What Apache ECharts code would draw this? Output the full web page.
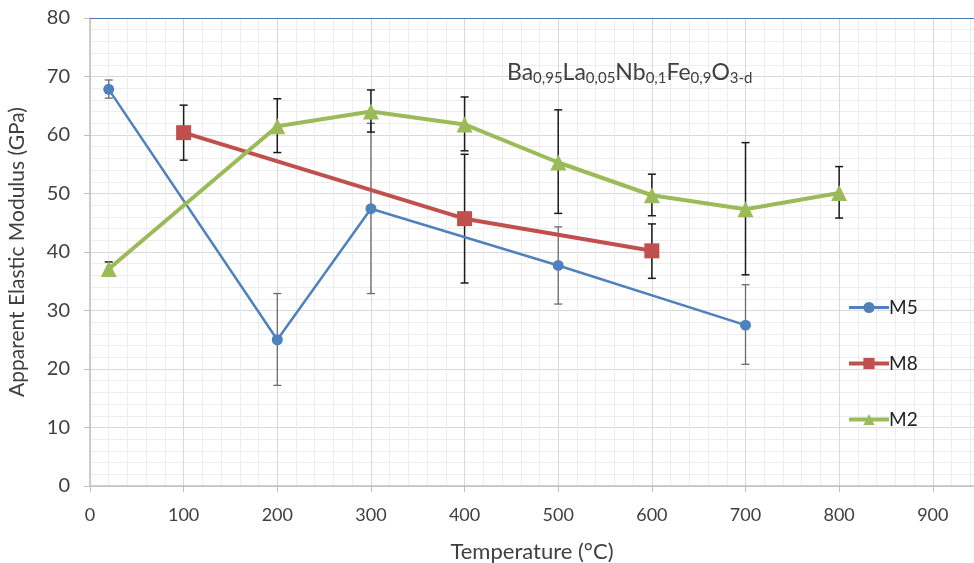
<!DOCTYPE html>
<html><head><meta charset="utf-8">
<script src="https://cdn.jsdelivr.net/npm/echarts@6/dist/echarts.min.js"></script>
<style>html,body{margin:0;padding:0;background:#fff}#c{width:974px;height:563px}</style>
</head><body><div id="c"></div>
<script>
const seriesNames = ['M5', 'M8', 'M2'];
const temps5 = [20, 200, 300, 500, 700];
const m5 = [67.8, 25.0, 47.4, 37.7, 27.5];
const m5Lo = [66.3, 17.2, 32.9, 31.1, 20.8];
const m5Hi = [69.4, 32.9, 62.0, 44.3, 34.4];
const temps8 = [100, 400, 600];
const m8 = [60.4, 45.7, 40.2];
const m8Lo = [55.7, 34.7, 35.5];
const m8Hi = [65.1, 56.7, 44.8];
const temps2 = [20, 200, 300, 400, 500, 600, 700, 800];
const m2 = [37.1, 61.5, 64.0, 61.8, 55.3, 49.7, 47.3, 50.1];
const m2Lo = [36.0, 57.0, 60.5, 57.3, 46.6, 46.2, 36.1, 45.8];
const m2Hi = [38.3, 66.2, 67.7, 66.5, 64.3, 53.3, 58.7, 54.6];
const xTicks = [0, 100, 200, 300, 400, 500, 600, 700, 800, 900];
const yTicks = [0, 10, 20, 30, 40, 50, 60, 70, 80];

const FONT = 'Lato';
const chart = echarts.init(document.getElementById('c'));

function pts(xs, ys) { return xs.map((x, i) => [x, ys[i]]); }
function errData(xs, lo, hi) { return xs.map((x, i) => [x, lo[i], hi[i]]); }
function errSeries(data, color, width) {
  return {
    type: 'custom', silent: true, z: 1,
    data: data,
    encode: { x: 0, y: [1, 2] },
    renderItem: function (params, api) {
      const lo = api.coord([api.value(0), api.value(1)]);
      const hi = api.coord([api.value(0), api.value(2)]);
      const w = 4;
      const st = { stroke: color, lineWidth: width };
      return {
        type: 'group', children: [
          { type: 'line', shape: { x1: lo[0], y1: lo[1], x2: hi[0], y2: hi[1] }, style: st },
          { type: 'line', shape: { x1: lo[0] - w, y1: lo[1], x2: lo[0] + w, y2: lo[1] }, style: st },
          { type: 'line', shape: { x1: hi[0] - w, y1: hi[1], x2: hi[0] + w, y2: hi[1] }, style: st }
        ]
      };
    }
  };
}

chart.setOption({
  animation: false,
  backgroundColor: '#fff',
  textStyle: { fontFamily: FONT },
  title: {
    text: 'Ba{s|0,95}La{s|0,05}Nb{s|0,1}Fe{s|0,9}O{s|3-d}',
    left: 502, top: 54,
    textStyle: {
      fontFamily: FONT, fontSize: 23, fontWeight: 'normal', color: '#404040',
      rich: { s: { fontFamily: FONT, fontSize: 15, color: '#404040', padding: [12, 0, 0, 0] } }
    }
  },
  legend: {
    orient: 'vertical', left: 842, top: 293, itemGap: 37,
    itemWidth: 40, itemHeight: 14,
    textStyle: { fontFamily: FONT, fontSize: 19, color: '#222', padding: [0, 0, 0, -5] },
    data: [
      { name: 'M5', lineStyle: { width: 3 } },
      { name: 'M8', lineStyle: { width: 4 } },
      { name: 'M2', lineStyle: { width: 4 } }
    ]
  },
  grid: { left: 90, right: 0, top: 18, bottom: 77, containLabel: false, outerBoundsMode: 'none' },
  xAxis: {
    type: 'value', min: 0, max: 944, interval: 100,
    name: 'Temperature (°C)', nameLocation: 'middle', nameGap: 55,
    nameTextStyle: { fontFamily: FONT, fontSize: 22, color: '#404040' },
    axisLine: { show: true, lineStyle: { color: '#bfbfbf', width: 1.5 } },
    axisTick: { show: true, length: 6, lineStyle: { color: '#bfbfbf' } },
    axisLabel: { fontFamily: FONT, fontSize: 18, color: '#404040', margin: 20, showMaxLabel: false,
      formatter: v => xTicks.includes(v) ? String(v) : '' },
    splitLine: { show: true, lineStyle: { color: '#d9d9d9', width: 1 } },
    minorTick: { show: false, splitNumber: 5 },
    minorSplitLine: { show: true, lineStyle: { color: '#ededed', width: 1 } }
  },
  yAxis: {
    type: 'value', min: 0, max: 80, interval: 10,
    name: 'Apparent Elastic Modulus (GPa)', nameLocation: 'middle', nameGap: 62,
    nameTextStyle: { fontFamily: FONT, fontSize: 21, color: '#404040' },
    axisLine: { show: true, lineStyle: { color: '#bfbfbf', width: 1.5 } },
    axisTick: { show: true, length: 6, lineStyle: { color: '#bfbfbf' } },
    axisLabel: { fontFamily: FONT, fontSize: 20, color: '#404040', margin: 20,
      formatter: v => yTicks.includes(v) ? String(v) : '' },
    splitLine: { show: true, lineStyle: { color: '#d9d9d9', width: 1 } },
    minorTick: { show: false, splitNumber: 5 },
    minorSplitLine: { show: true, lineStyle: { color: '#ededed', width: 1 } }
  },
  series: [
    errSeries(errData(temps5, m5Lo, m5Hi), '#6b6b6b', 1.3),
    errSeries(errData(temps8, m8Lo, m8Hi), '#1a1a1a', 1.5),
    errSeries(errData(temps2, m2Lo, m2Hi), '#1a1a1a', 1.5),
    {
      name: 'M5', type: 'line', z: 3, data: pts(temps5, m5),
      symbol: 'circle', symbolSize: 11, color: '#4f81bd',
      lineStyle: { width: 2.5, color: '#4f81bd' }, itemStyle: { color: '#4f81bd' },
      markLine: { silent: true, symbol: 'none', label: { show: false },
        lineStyle: { color: '#4a7ebb', width: 1, type: 'solid' }, data: [{ yAxis: 80 }] }
    },
    {
      name: 'M8', type: 'line', z: 4, data: pts(temps8, m8),
      symbol: 'rect', symbolSize: 15, color: '#c0504d',
      lineStyle: { width: 4, color: '#c0504d' }, itemStyle: { color: '#c0504d' }
    },
    {
      name: 'M2', type: 'line', z: 5, data: pts(temps2, m2),
      symbol: 'triangle', symbolSize: 16, color: '#9bbb59',
      lineStyle: { width: 4, color: '#9bbb59' }, itemStyle: { color: '#9bbb59' }
    }
  ]
});
</script></body></html>
